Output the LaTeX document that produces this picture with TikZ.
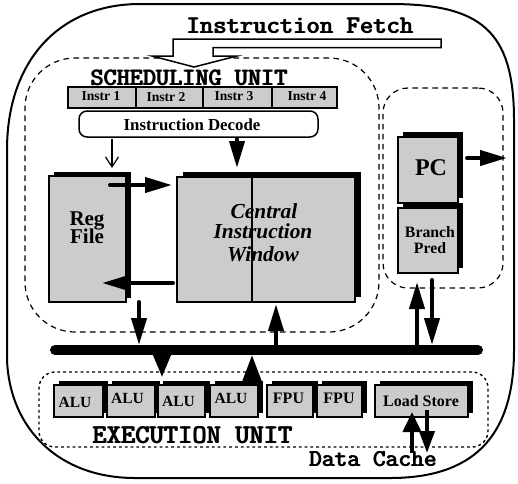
\documentclass[tikz,border=0pt]{standalone}
\usepackage{fontspec}
\setmainfont{Liberation Serif}
\usetikzlibrary{arrows.meta,shadows}
\definecolor{unitgray}{RGB}{204,204,204}
% typewriter text set twice with a small offset for a heavier stroke
\newcommand\heavytt[1]{\rlap{#1}\hspace{0.45pt}#1}

\tikzset{
  dims/.style 2 args={minimum width=#1*0.5pt, minimum height=#2*0.5pt},
  graybox/.style={draw, line width=1pt, fill=unitgray, inner sep=0pt},
  shadowed/.style={general shadow={fill=black, shadow xshift=#1, shadow yshift=#1}},
  region/.style={draw, line width=0.6pt, dash pattern=on 2.8pt off 2.2pt, inner sep=0pt},
  txt/.style={inner sep=0pt, anchor=base},
  monotxt/.style={txt, font={\ttfamily\bfseries\fontsize{#1pt}{#1pt}\selectfont}},
  boldtxt/.style={txt, font={\bfseries\fontsize{#1pt}{#1pt}\selectfont}},
  italtxt/.style={txt, font={\bfseries\itshape\fontsize{#1pt}{#1pt}\selectfont}},
  fatarrow/.style={line width=2pt, line cap=round, -{Triangle[length=13.5pt, width=7.5pt]}},
  thinarrow/.style={line width=0.6pt, -{Straight Barb[length=5pt, width=6.5pt]}},
  bus/.style={line width=5pt, line cap=round}
}

\begin{document}
\begin{tikzpicture}[x=0.5pt, y=-0.5pt]
\useasboundingbox (0,0) rectangle (518,483);

% outer processor outline
\draw[line width=1pt] (7,150) .. controls (7,60) and (60,4) .. (140,4) -- (390,4)
  .. controls (480,4) and (514,30) .. (514,120) -- (514,350)
  .. controls (514,440) and (470,478) .. (390,478) -- (135,478)
  .. controls (60,478) and (10,430) .. (7,360) -- cycle;

% dashed unit regions
\node[region, rounded corners=25pt, dims={354}{274}] (sched) at (202,195) {};
\node[region, rounded corners=12.5pt, dims={120}{200}] (brunit) at (443,188) {};
\node[region, rounded corners=8pt, line width=0.7pt, dash pattern=on 1.4pt off 1.5pt,
      dims={449}{75}] (execunit) at (263.5,409.5) {};

% instruction fetch outline arrow
\draw[line width=0.75pt, fill=white] (173,39) -- (441,39) -- (441,47.5) -- (213,47.5)
  -- (213,56) -- (237,56) -- (194,67) -- (152,56) -- (173,56) -- cycle;
\node[monotxt=12.7] (fetch) at (300,33) {\heavytt{Instruction Fetch}};
\node[monotxt=12.5] (schedlbl) at (189,85) {\heavytt{SCHEDULING UNIT}};

% instruction buffer and decoder
\node[graybox, dims={68}{21}] (i1) at (102,97.5) {};
\node[graybox, dims={67}{21}] (i2) at (169.5,97.5) {};
\node[graybox, dims={69}{21}] (i3) at (237.5,97.5) {};
\node[graybox, dims={65}{21}] (i4) at (304.5,97.5) {};
\node[boldtxt=6.8] at (101,100.5) {Instr 1};
\node[boldtxt=6.8] at (166,101.5) {Instr 2};
\node[boldtxt=6.8] at (234,100.5) {Instr 3};
\node[boldtxt=6.8] at (307,100.5) {Instr 4};
\node[draw, line width=0.75pt, fill=white, rounded corners=4pt, dims={239}{26}] (decode) at (198.5,124) {};
\node[boldtxt=8.4] at (192,130) {Instruction Decode};

% register file and central window
\node[graybox, shadowed=2.25pt, dims={77}{126}] (regfile) at (87.5,239) {};
\node[graybox, shadowed=2.75pt, dims={75}{125}] (winL) at (214.5,239.5) {};
\node[graybox, shadowed=2.75pt, dims={103}{125}] (winR) at (303.5,239.5) {};

% branch unit
\node[graybox, shadowed=2.5pt, dims={60}{66}] (pc) at (428,170) {};
\node[graybox, shadowed=2.5pt, dims={60}{65}] (bpred) at (428,240.5) {};

% execution units
\node[graybox, shadowed=2.25pt, dims={49}{32}] (alu1) at (78.5,401) {};
\node[graybox, shadowed=2.25pt, dims={48}{32}] (alu2) at (131,401) {};
\node[graybox, shadowed=2.25pt, dims={47}{32}] (alu3) at (181.5,401) {};
\node[graybox, shadowed=2.25pt, dims={48}{32}] (alu4) at (234,401) {};
\node[graybox, shadowed=2.25pt, dims={46}{32}] (fpu1) at (290,401) {};
\node[graybox, shadowed=2.25pt, dims={45}{32}] (fpu2) at (339.5,401) {};
\node[graybox, shadowed=2.25pt, dims={93}{32}] (ldst) at (421.5,401) {};

% result bus
\coordinate (busL) at (55,350);
\coordinate (busR) at (478,350);
\draw[bus] (busL) -- (busR);

% connector end points
\coordinate (decRegTop) at (112,139);  \coordinate (regTop) at (112,168);
\coordinate (decWinTop) at (237,139);  \coordinate (winTop) at (237,168);
\coordinate (regOut) at (110,185);     \coordinate (winIn) at (172,185);
\coordinate (winOut) at (173,283);     \coordinate (regIn) at (102,283);
\coordinate (regBus) at (139,302);     \coordinate (busA) at (139,345);
\coordinate (busB) at (276,345);       \coordinate (winBus) at (276,304);
\coordinate (busC) at (417,345);       \coordinate (bpIn) at (417,282);
\coordinate (bpOut) at (432,280);      \coordinate (busD) at (432,345);
\coordinate (pcOut) at (467,158);      \coordinate (pcNext) at (507,158);
\coordinate (busE) at (162,355);       \coordinate (aluIn) at (162,377);
\coordinate (aluOut) at (252,382);     \coordinate (busF) at (252,355);
\coordinate (cacheUp) at (412,453);    \coordinate (lsIn) at (412,412);
\coordinate (lsOut) at (427,410);      \coordinate (cacheDown) at (427,453);

% connectors
\draw[thinarrow] (decRegTop) -- (regTop);
\draw[fatarrow] (decWinTop) -- (winTop);
\draw[fatarrow] (regOut) -- (winIn);
\draw[fatarrow] (winOut) -- (regIn);
\draw[fatarrow] (regBus) -- (busA);
\draw[fatarrow] (busB) -- (winBus);
\draw[fatarrow] (busC) -- (bpIn);
\draw[fatarrow] (bpOut) -- (busD);
\draw[fatarrow] (pcOut) -- (pcNext);
\draw[line width=2pt, -{Triangle[length=11pt, width=8.5pt]}] (busE) -- (aluIn);
\draw[line width=2pt, -{Triangle[length=13.5pt, width=9.5pt]}] (aluOut) -- (busF);
\draw[line width=2pt, -{Triangle[length=10pt, width=9pt]}] (cacheUp) -- (lsIn);
\draw[line width=2pt, -{Triangle[length=11pt, width=7.5pt]}] (lsOut) -- (cacheDown);

% box labels
\node[boldtxt=10.5] at (87,225) {Reg};
\node[boldtxt=10.5] at (87,243) {File};
\node[italtxt=10.7] at (264,218) {Central};
\node[italtxt=10.7] at (263,238.5) {Instruction};
\node[italtxt=10.7] at (263,261) {Window};
\node[boldtxt=12] at (431,175) {PC};
\node[boldtxt=7.9] at (430,237) {Branch};
\node[boldtxt=7.9] at (430,253) {Pred};
\node[boldtxt=7.75] at (75,407) {ALU};
\node[boldtxt=7.75] at (127.5,403) {ALU};
\node[boldtxt=7.75] at (178.5,406) {ALU};
\node[boldtxt=7.75] at (231,403) {ALU};
\node[boldtxt=8] at (288.5,403) {FPU};
\node[boldtxt=8] at (339,403) {FPU};
\node[boldtxt=8] at (421,406) {Load Store};

\node[monotxt=13.6] (execlbl) at (192.5,443) {\heavytt{EXECUTION UNIT}};
\node[monotxt=12.15] (cachelbl) at (373,466) {\heavytt{Data Cache}};
\end{tikzpicture}
\end{document}
